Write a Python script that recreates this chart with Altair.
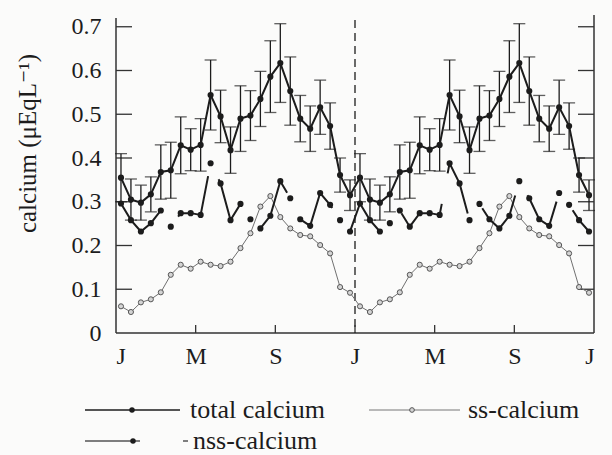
import json
import altair as alt
import pandas as pd

# ---- data (one annual cycle, half-monthly samples; the figure repeats it twice) ----
total_year = [0.355, 0.305, 0.298, 0.317, 0.368, 0.372, 0.429, 0.419, 0.430, 0.544, 0.495, 0.418,
              0.490, 0.497, 0.535, 0.586, 0.617, 0.553, 0.490, 0.467, 0.516, 0.473, 0.361, 0.315]
err_year = [0.055, 0.047, 0.040, 0.040, 0.062, 0.064, 0.065, 0.048, 0.060, 0.080, 0.060, 0.053,
            0.075, 0.057, 0.063, 0.082, 0.090, 0.078, 0.053, 0.052, 0.062, 0.053, 0.039, 0.035]
ss_year = [0.061, 0.048, 0.070, 0.077, 0.093, 0.133, 0.156, 0.147, 0.163, 0.156, 0.153, 0.163,
           0.194, 0.228, 0.289, 0.313, 0.265, 0.239, 0.224, 0.221, 0.201, 0.182, 0.105, 0.092]
nss_year = [0.296, 0.258, 0.232, 0.251, 0.280, 0.243, 0.274, 0.274, 0.270, 0.388, 0.342, 0.258,
            0.295, 0.260, 0.239, 0.268, 0.347, 0.308, 0.260, 0.245, 0.320, 0.293, 0.258, 0.232]

month_ticks = [0, 4, 8, 12, 16, 20, 24]
month_labels = ["J", "M", "S", "J", "M", "S", "J"]
y_ticks = [0, 0.1, 0.2, 0.3, 0.4, 0.5, 0.6, 0.7]
year_boundary = [12]

n_years = 2
t = [(i + 0.5) / 2 for i in range(24 * n_years)]
df = pd.DataFrame({
    "t": t,
    "total": total_year * n_years,
    "err": err_year * n_years,
    "ss": ss_year * n_years,
    "nss": nss_year * n_years,
})
df["lo"] = df["total"] - df["err"]
df["hi"] = df["total"] + df["err"]

W, H = 478, 315
FONT = "'Liberation Serif', 'Times New Roman', 'DejaVu Serif', serif"
INK = "#1c1c1c"

xs = alt.Scale(domain=[0, 24], nice=False, zero=False)
ys = alt.Scale(domain=[0, 0.72], nice=False)

x_label_expr = (f"{json.dumps(month_labels)}[indexof({json.dumps(month_ticks)}, datum.value)]")

x_axis = alt.Axis(values=month_ticks, labelExpr=x_label_expr, ticks=False, tickSize=0,
                  domain=False, grid=False, labelFont=FONT, labelFontSize=24,
                  labelColor=INK, labelPadding=11, title=None)
y_axis = alt.Axis(values=y_ticks, labelExpr="datum.value == 0 ? '0' : format(datum.value, '.1f')",
                  ticks=False, tickSize=0, domain=False, grid=False, labelFont=FONT,
                  labelFontSize=24, labelColor=INK, labelPadding=15,
                  title="calcium (μEqL⁻¹)", titleFont=FONT, titleFontSize=25,
                  titleFontWeight="normal", titleColor=INK, titleX=-89, titleY=125,
                  titleAngle=270, titleAlign="center", titleBaseline="middle")


def X(field):
    return alt.X(field, scale=xs, axis=x_axis)


def Y(field):
    return alt.Y(field, scale=ys, axis=y_axis)


base = alt.Chart(df)

# error bars
err_rule = base.mark_rule(color=INK, strokeWidth=1.3).encode(x=X("t:Q"), y=Y("lo:Q"), y2="hi:Q")
cap_hi = base.mark_tick(color=INK, orient="horizontal", size=12, thickness=1.3).encode(
    x=X("t:Q"), y=Y("hi:Q"))
cap_lo = base.mark_tick(color=INK, orient="horizontal", size=12, thickness=1.3).encode(
    x=X("t:Q"), y=Y("lo:Q"))

# series
ss_line = base.mark_line(color="#707070", strokeWidth=1).encode(x=X("t:Q"), y=Y("ss:Q"))
ss_pts = base.mark_point(shape="circle", filled=True, fill="#d4d4d4", stroke="#555555",
                         strokeWidth=1, size=26, opacity=1).encode(x=X("t:Q"), y=Y("ss:Q"))
nss_line = base.mark_line(color=INK, strokeWidth=2, strokeDash=[64, 31]).encode(
    x=X("t:Q"), y=Y("nss:Q"))
nss_pts = base.mark_circle(color=INK, size=38, opacity=1).encode(x=X("t:Q"), y=Y("nss:Q"))
tot_line = base.mark_line(color=INK, strokeWidth=2).encode(x=X("t:Q"), y=Y("total:Q"))
tot_pts = base.mark_circle(color=INK, size=38, opacity=1).encode(x=X("t:Q"), y=Y("total:Q"))

# frame & inward ticks
frame_left = alt.Chart().mark_rule(color="#333", strokeWidth=1.5).encode(
    x=alt.value(0), y=alt.value(0), y2=alt.value(H))
frame_right = alt.Chart().mark_rule(color="#333", strokeWidth=1.5).encode(
    x=alt.value(W), y=alt.value(-3), y2=alt.value(H))
frame_bottom = alt.Chart().mark_rule(color="#333", strokeWidth=1.5).encode(
    x=alt.value(0), x2=alt.value(W), y=alt.value(H))

ytick_df = pd.DataFrame({"v": y_ticks[1:]})
ytick_l = alt.Chart(ytick_df).mark_rule(color="#333", strokeWidth=1.3).encode(
    y=Y("v:Q"), x=alt.value(0), x2=alt.value(16))
ytick_r = alt.Chart(ytick_df).mark_rule(color="#333", strokeWidth=1.3).encode(
    y=Y("v:Q"), x=alt.value(W - 16), x2=alt.value(W))
xtick_df = pd.DataFrame({"m": month_ticks[1:-1]})
xtick = alt.Chart(xtick_df).mark_rule(color="#333", strokeWidth=1.3).encode(
    x=X("m:Q"), y=alt.value(H - 8), y2=alt.value(H))

vline = alt.Chart(pd.DataFrame({"m": year_boundary})).mark_rule(
    color=INK, strokeWidth=1.3, strokeDash=[8, 5]).encode(
    x=X("m:Q"), y=alt.value(2), y2=alt.value(H))


# legend (drawn below the plot)
def leg_line(x0, x1, yy, color, width, dash=None):
    kw = dict(color=color, strokeWidth=width)
    if dash:
        kw["strokeDash"] = dash
    return alt.Chart().mark_rule(**kw).encode(x=alt.value(x0), x2=alt.value(x1), y=alt.value(yy))


def leg_text(xx, yy, txt):
    return alt.Chart().mark_text(text=txt, align="left", baseline="middle", font=FONT,
                                 fontSize=26, color=INK).encode(x=alt.value(xx), y=alt.value(yy))


r1 = 410 - 18
r2 = 441 - 18
legend = [
    leg_line(85 - 116, 180 - 116, r1, INK, 1.5),
    alt.Chart().mark_circle(color=INK, size=30, opacity=1).encode(x=alt.value(132 - 116), y=alt.value(r1)),
    leg_text(190 - 116, r1, "total calcium"),
    leg_line(369 - 116, 460 - 116, r1, "#777", 1),
    alt.Chart().mark_point(shape="circle", filled=True, fill="#d4d4d4", stroke="#555", strokeWidth=1,
                           size=22, opacity=1).encode(x=alt.value(412 - 116), y=alt.value(r1)),
    leg_text(468 - 116, r1, "ss-calcium"),
    leg_line(85 - 116, 188 - 116, r2, "#555", 1.3, [55, 43]),
    alt.Chart().mark_circle(color=INK, size=30, opacity=1).encode(x=alt.value(133 - 116), y=alt.value(r2)),
    leg_text(193 - 116, r2, "nss-calcium"),
]

chart = alt.layer(
    tot_line, vline, frame_left, frame_right, frame_bottom, ytick_l, ytick_r, xtick,
    err_rule, cap_hi, cap_lo, ss_line, ss_pts, nss_line, nss_pts, tot_pts, *legend,
).properties(
    width=W, height=H,
    padding={"left": 116, "top": 18, "right": 18, "bottom": 122},
    autosize=alt.AutoSizeParams(type="none"),
    background="#fbfbfa",
).configure_view(stroke=None)

chart.save("out.html", embed_options={"renderer": "svg", "actions": False})
